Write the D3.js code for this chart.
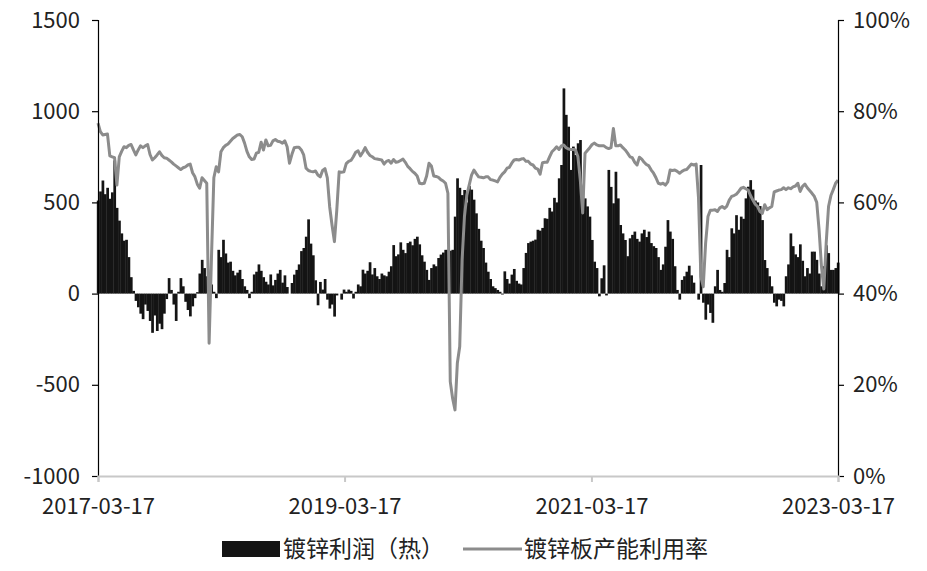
<!DOCTYPE html>
<html><head><meta charset="utf-8">
<script src="https://cdn.jsdelivr.net/npm/d3@7"></script>
<style>
body{margin:0;background:#fff}
svg{display:block}
text{font-family:"Noto Sans CJK SC","Noto Sans",sans-serif}
</style>
</head><body>
<svg id="chart" width="927" height="571"></svg>
<script>
// ---- data ----
const startDate = "2017-03-17";   // first weekly observation
const xTickLabels = ["2017-03-17", "2019-03-17", "2021-03-17", "2023-03-17"];
const leftTicks = [-1000, -500, 0, 500, 1000, 1500];
const rightTicks = [0, 20, 40, 60, 80, 100];
const seriesNames = ["镀锌利润（热）", "镀锌板产能利用率"];

// weekly galvanizing profit (hot-rolled base), yuan/t
const profit = [
 510,560,620,545,580,520,555,730,470,400, 330,290,295,200,90,15,-40,-75,-110,-140,
 -60,-95,-150,-215,-120,-205,-165,-195,-110,-30, 85,20,-60,-150,10,85,40,-45,-90,-125,
 -70,-25,8,110,185,140,95,20,50,10, -25,240,200,295,220,170,175,125,100,115,
 130,80,40,20,-25,10,105,120,160,125, 90,65,50,105,45,75,110,130,60,100,
 36,0,58,104,130,160,233,250,312,407, 274,210,73,-64,64,22,80,-33,-82,-60,
 -126,-10,0,-33,22,10,22,15,-27,10, 50,40,131,110,125,172,105,140,95,80,
 110,100,95,120,150,266,205,215,281,240, 222,277,285,265,300,312,270,210,175,130,
 75,140,160,150,195,214,225,240,240,235, 240,422,632,580,540,568,500,590,570,515,
 440,355,290,250,170,120,80,40,30,20, 10,-5,122,80,55,104,135,70,55,50,
 140,223,277,285,290,296,350,345,360,413, 410,470,450,525,500,632,705,1125,980,915,
 678,806,760,824,842,560,522,478,422,294, 175,140,-15,84,155,-10,678,585,495,668,
 522,376,330,294,205,303,322,340,300,285, 330,350,310,340,277,260,250,200,130,160,
 257,403,340,300,150,20,-33,75,95,120, 153,100,60,0,-33,705,-50,-143,-60,-106,
 -160,40,130,20,10,58,240,200,358,330, 430,350,422,410,522,586,622,570,510,500,
 480,403,184,140,95,40,-50,-70,-33,-40, -70,95,160,330,260,215,200,270,180,95,
 140,110,230,230,185,110,40,150,265,222, 130,130,140,170
];

// weekly galvanized sheet capacity utilization, %
const utilization = [
 77.4,75.5,74.8,74.9,75.0,70.2,70.0,69.8,63.8,70.0, 71.2,72.2,72.0,72.5,72.7,71.5,70.4,71.5,72.4,72.0,
 72.4,72.7,70.5,69.3,69.8,70.4,71.1,70.3,69.8,69.7, 69.3,68.9,68.4,68.0,67.6,67.2,67.6,67.8,68.2,68.4,
 66.5,65.6,64.0,63.1,65.4,64.8,64.2,29.1,48.0,65.4, 67.8,66.7,71.1,72.0,72.5,72.8,73.4,74.0,74.4,74.8,
 74.9,74.4,73.0,71.2,70.0,69.4,69.5,70.8,71.0,73.2, 71.5,73.7,72.4,72.5,73.5,73.8,73.4,73.3,73.0,73.5,
 72.2,68.6,70.5,72.0,72.1,72.1,71.5,70.4,67.5,67.0, 66.8,66.7,66.9,66.0,65.6,67.0,67.4,65.4,59.0,55.0,
 51.4,58.3,66.7,66.6,66.7,68.5,69.0,69.2,70.0,71.0, 71.3,70.2,71.0,72.0,71.0,70.3,70.0,69.6,69.5,69.4,
 69.3,68.4,69.0,69.2,68.6,69.4,68.8,68.9,69.2,69.5, 68.8,67.9,67.4,66.8,66.4,65.8,64.2,64.1,64.2,65.8,
 68.6,68.0,65.8,65.7,65.5,65.0,64.7,64.2,62.0,20.7, 17.0,14.5,24.8,28.4,47.4,56.9,61.6,63.8,66.0,67.1,
 66.3,65.6,65.5,65.4,65.6,65.6,65.0,64.9,64.7,64.5, 65.5,66.2,66.7,67.5,67.7,68.6,69.3,69.4,69.3,69.5,
 69.6,69.0,69.0,68.4,68.2,67.5,67.3,66.2,68.7,68.8, 68.8,70.0,71.1,71.6,72.2,71.6,72.4,72.6,72.0,71.7,
 71.6,71.6,71.5,70.0,64.9,57.7,70.8,71.4,72.0,72.7, 73.0,72.6,72.4,72.4,72.4,72.0,71.8,72.0,76.2,72.4,
 72.4,72.6,72.0,71.5,70.8,70.0,69.8,68.8,68.2,69.9, 69.5,68.8,68.3,68.0,67.1,66.4,65.4,64.2,64.0,64.2,
 63.8,64.5,67.1,67.0,67.1,66.8,66.4,66.8,67.1,67.2, 67.8,68.4,68.2,68.4,61.0,43.7,41.5,51.0,56.9,58.3,
 58.3,58.4,58.0,58.8,59.1,58.7,59.2,60.5,61.3,61.5, 61.8,62.4,63.1,63.3,63.0,62.7,61.5,60.5,59.6,59.1,
 58.0,57.6,59.5,58.4,58.8,59.1,62.3,62.5,62.7,62.8, 63.2,62.8,63.2,63.0,63.4,63.6,64.2,62.4,63.5,64.0,
 63.2,62.6,62.0,61.3,60.0,54.0,46.0,41.0,51.0,59.1, 61.5,62.8,64.2,64.9
];

// ---- chart ----
const plot = {left: 98, right: 838, top: 20, bottom: 476};
const svg = d3.select("#chart");
const FONT = '"Noto Sans CJK SC","Noto Sans",sans-serif';

const parse = d3.timeParse("%Y-%m-%d");
const t0 = parse(startDate);
const dates = profit.map((_, i) => d3.timeDay.offset(t0, 7 * i));

const x = d3.scaleTime()
  .domain([parse(xTickLabels[0]), parse(xTickLabels[xTickLabels.length - 1])])
  .range([plot.left, plot.right]);
const yL = d3.scaleLinear().domain([-1000, 1500]).range([plot.bottom, plot.top]);
const yR = d3.scaleLinear().domain([0, 100]).range([plot.bottom, plot.top]);

const step = x(dates[1]) - x(dates[0]);

// bars
svg.append("g").selectAll("rect").data(profit).join("rect")
  .attr("x", (d, i) => x(dates[i]) - step / 2)
  .attr("width", step + 0.35)
  .attr("y", d => yL(Math.max(0, d)))
  .attr("height", d => Math.abs(yL(d) - yL(0)))
  .attr("fill", "#141414");

// line
const line = d3.line().x((d, i) => x(dates[i])).y(d => yR(d));
svg.append("path").datum(utilization)
  .attr("d", line)
  .attr("fill", "none")
  .attr("stroke", "#8c8c8c")
  .attr("stroke-width", 3)
  .attr("stroke-linejoin", "round");

// axes
const fontSize = 22;
const gL = svg.append("g").attr("transform", `translate(${plot.left},0)`)
  .call(d3.axisLeft(yL).tickValues(leftTicks).tickSize(6).tickPadding(12)
    .tickFormat(d => String(d)));
const gR = svg.append("g").attr("transform", `translate(${plot.right},0)`)
  .call(d3.axisRight(yR).tickValues(rightTicks).tickSize(6).tickPadding(9).tickFormat(d => d + "%"));
[gL, gR].forEach(g => {
  g.select(".domain").attr("stroke", "#000").attr("stroke-width", 1.2);
  g.selectAll(".tick line").attr("stroke", "#000").attr("stroke-width", 1.2);
  g.selectAll("text").attr("font-size", fontSize).attr("fill", "#222").attr("font-family", FONT);
});

const gB = svg.append("g").attr("transform", `translate(0,${plot.bottom})`)
  .call(d3.axisBottom(x).tickValues(xTickLabels.map(parse)).tickSize(6).tickPadding(16)
    .tickFormat(d3.timeFormat("%Y-%m-%d")));
gB.select(".domain").attr("stroke", "#c8c8c8").attr("stroke-width", 2);
gB.selectAll(".tick line").attr("stroke", "#c8c8c8").attr("stroke-width", 2);
gB.selectAll("text").attr("font-size", fontSize).attr("fill", "#222").attr("font-family", FONT);

// legend
const lg = svg.append("g");
lg.append("rect").attr("x", 222).attr("y", 541).attr("width", 58).attr("height", 16).attr("fill", "#141414");
lg.append("text").attr("x", 283).attr("y", 557).attr("font-size", 23).attr("fill", "#222").text(seriesNames[0]);
lg.append("line").attr("x1", 463).attr("x2", 522).attr("y1", 549).attr("y2", 549)
  .attr("stroke", "#8c8c8c").attr("stroke-width", 3);
lg.append("text").attr("x", 524).attr("y", 557).attr("font-size", 23).attr("fill", "#222").text(seriesNames[1]);
</script>
</body></html>
